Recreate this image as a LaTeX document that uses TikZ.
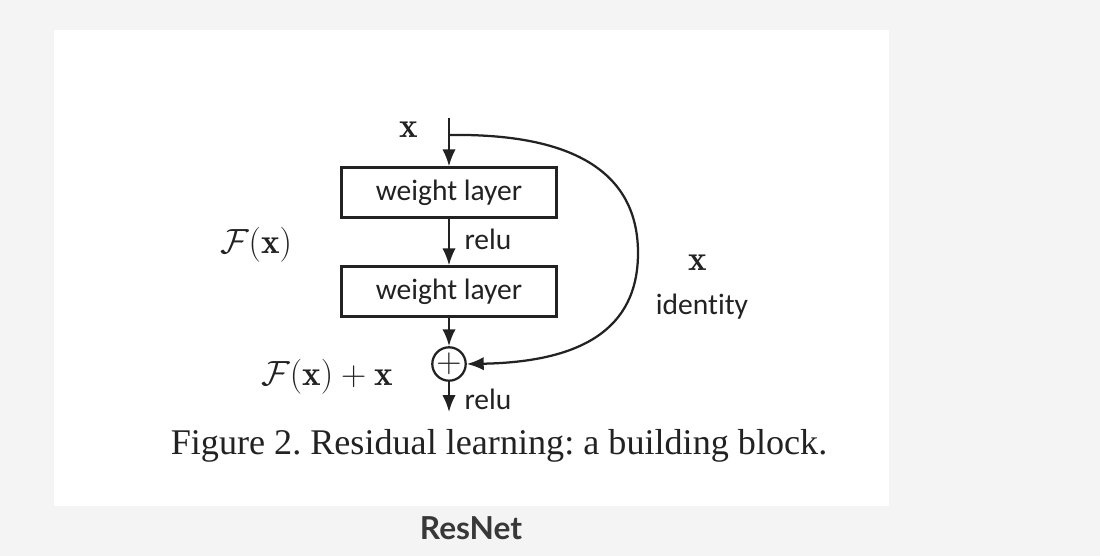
\documentclass[tikz,border=0pt]{standalone}
\usepackage{fontspec}
\usepackage{amsmath}
\usepackage{amssymb}
\usetikzlibrary{calc}
\usetikzlibrary{positioning}
\usetikzlibrary{arrows.meta}
\newfontfamily\labelfont[Ligatures=NoCommon]{Carlito}
\newfontfamily\capfont{Liberation Serif}
\newfontfamily\titlefont{Lato}
\definecolor{pagegray}{HTML}{F4F4F4}
\definecolor{ink}{HTML}{222222}
\tikzstyle{layernode} = [draw=ink, line width=1.6pt, rectangle, minimum width=5.375cm, minimum height=1.25cm, inner sep=0, text=ink, font=\labelfont\fontsize{21}{25}\selectfont]
\tikzstyle{addnode} = [draw=ink, line width=1.6pt, circle, minimum size=0.8cm, inner sep=0, text=ink, font=\fontsize{25}{30}\selectfont]
\tikzstyle{flow} = [draw=ink, line width=1.6pt, -{Latex[length=12pt, width=9.5pt]}]
\tikzstyle{wordlabel} = [text=ink, inner sep=0, font=\labelfont\fontsize{21}{25}\selectfont]
\tikzstyle{mathlabel} = [text=ink, inner sep=0, font=\fontsize{25}{30}\selectfont]
\tikzstyle{captext} = [text=ink, inner sep=0, font=\capfont\fontsize{25.7}{30}\selectfont]
\tikzstyle{titletext} = [text=ink!90, inner sep=0, font=\titlefont\bfseries\fontsize{22.5}{27}\selectfont]
\frenchspacing

\begin{document}
\begin{tikzpicture}[x=0.025cm, y=-0.025cm]
    \fill[pagegray] (0,0) rectangle (1100,556);
    \fill[white] (54,30) rectangle (889,506);

    \coordinate (blk_in) at (449,118);
    \coordinate (blk_split) at (449,135);
    \node[layernode] (blk_w1) at (449,192.5) {weight layer};
    \node[layernode] (blk_w2) at (449,291.5) {weight layer};
    \node[addnode] (blk_add) at (449,364) {$+$};
    \coordinate (blk_out) at (449,412);

    \draw[flow] (blk_in) -- (blk_w1);
    \draw[flow] (blk_w1) -- (blk_w2);
    \draw[flow] (blk_w2) -- (blk_add);
    \draw[flow] (blk_add) -- (blk_out);
    \draw[flow] (blk_split) .. controls (585,133) and (638,180) .. (638,253)
        .. controls (638,330) and (580,362) .. (blk_add.east);

    \node[mathlabel] (lbl_xin) at (409,130) {$\mathbf{x}$};
    \node[mathlabel] (lbl_fx) at (256,245) {$\mathcal{F}(\mathbf{x})$};
    \node[wordlabel] (lbl_relu1) at (488,239) {relu};
    \node[mathlabel] (lbl_xid) at (698,263) {$\mathbf{x}$};
    \node[wordlabel] (lbl_id) at (702,307) {identity};
    \node[mathlabel] (lbl_sum) at (327,377) {$\mathcal{F}(\mathbf{x}) + \mathbf{x}$};
    \node[wordlabel] (lbl_relu2) at (488,399) {relu};

    \node[captext] (fig_caption) at (499,446) {Figure 2. Residual learning: a building block.};
    \node[titletext] (fig_title) at (471,528) {ResNet};
\end{tikzpicture}
\end{document}
